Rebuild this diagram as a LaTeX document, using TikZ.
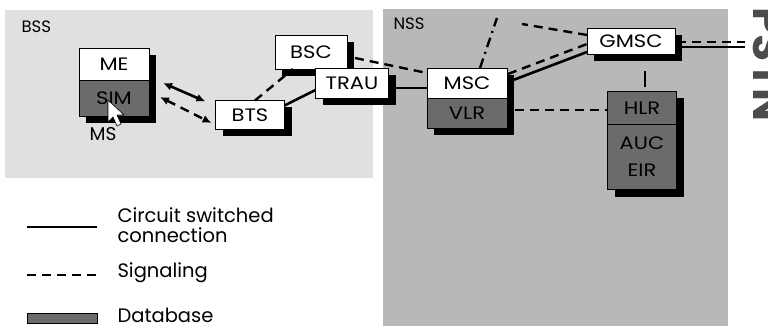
\documentclass[tikz,border=0pt]{standalone}
\usepackage{fontspec}
\setmainfont{Poppins}
\newfontfamily\widefont[FakeStretch=1.17]{Poppins}
\usetikzlibrary{arrows.meta, positioning, calc, shadows}

\definecolor{bssgray}{gray}{0.88}
\definecolor{nssgray}{gray}{0.72}
\definecolor{dbgray}{gray}{0.42}

\begin{document}
\begin{tikzpicture}[x=1pt, y=-1pt,
    font=\fontsize{18.5}{21}\selectfont,
    unit/.style={draw, fill=white, line width=0.8pt, inner sep=0pt, outer sep=0pt,
                 align=center, font=\widefont\fontsize{18}{21}\selectfont,
                 drop shadow={shadow xshift=7pt, shadow yshift=-7pt, fill=black, opacity=1}},
    db/.style={unit, fill=dbgray},
    circ/.style={line width=2.6pt},
    sig/.style={line width=2.4pt, dash pattern=on 9pt off 6pt},
    dblarr/.style={{Latex[length=9pt,width=8pt]}-{Latex[length=9pt,width=8pt]}},
    area/.style={font=\fontsize{16.5}{18}\selectfont, anchor=west},
    lab/.style={anchor=west, align=left, font=\fontsize{19.5}{20}\selectfont},
  ]
  \useasboundingbox (0,0) rectangle (768,326);
  \clip (0,0) rectangle (768,326);

  % subsystems
  \fill[bssgray] (5,10) rectangle (373,178);
  \fill[nssgray] (383,9) rectangle (728,326);
  \node[area] (bss) at (18,27) {BSS};
  \node[area] (nss) at (390,24) {NSS};

  % BSS
  \node[unit, minimum width=70pt, minimum height=32pt] (me) at (114,64) {ME};
  \node[db, minimum width=70pt, minimum height=36pt, below=0pt of me] (sim) {SIM};
  \draw[fill=white, line width=0.6pt] (108,100) -- (108,122) -- (113,117) -- (117,126)
        -- (121,124) -- (117,115) -- (124,115) -- cycle;
  \node (ms) at (103,134) {MS};
  \node[unit, minimum width=69pt, minimum height=29pt] (bts) at (250,115) {BTS};
  \node[unit, minimum width=72pt, minimum height=34pt] (bsc) at (311,52) {BSC};
  \node[unit, minimum width=73pt, minimum height=30pt] (trau) at (352,83) {TRAU};

  % NSS
  \node[unit, minimum width=80pt, minimum height=30pt] (msc) at (467,83) {MSC};
  \node[db, minimum width=80pt, minimum height=30pt, below=0pt of msc] (vlr) {VLR};
  \node[unit, minimum width=88pt, minimum height=26pt] (gmsc) at (631,41) {GMSC};
  \node[db, minimum width=69pt, minimum height=33pt] (hlr) at (642,108) {HLR};
  \node[db, minimum width=69pt, minimum height=65pt, below=0pt of hlr] (auc) {AUC\\[6pt]EIR};

  \node[rotate=-90, anchor=base west, text=gray!60!black,
        font=\fontsize{44}{46}\selectfont\bfseries] (pstn) at (753,4) {PSTN};
  \coordinate (pstnin) at (745,45);
  \coordinate (nsstop) at (497,18);
  \coordinate (nssleft) at (522,24);

  % radio interface
  \draw[circ, dblarr] ($(me.south east)+(14,3)$) -- ($(bts.north west)+(-10,1)$);
  \draw[sig, dblarr] ($(sim.east)+(11,-1)$) -- ($(bts.west)+(-4,8)$);

  % links
  \draw[sig] ($(bts.north)+(5,0)$) -- ($(bsc.south west)+(18,0)$);
  \draw[circ] ($(bts.north east)+(0,5)$) -- ($(trau.west)+(0,7)$);
  \draw[sig] ($(bsc.east)+(8,6)$) -- ($(msc.north west)+(0,5)$);
  \draw[circ] ($(trau.east)+(7,5)$) -- ($(msc.west)+(0,5)$);
  \draw[circ] ($(msc.east)+(1,-1)$) -- ($(gmsc.south west)+(0,-2)$);
  \draw[sig] ($(msc.north east)+(1,6)$) -- ($(gmsc.west)+(0,3)$);
  \draw[sig, dash pattern=on 10pt off 5pt on 2pt off 5pt] ($(msc.north)+(13,0)$) -- (nsstop);
  \draw[sig] ($(gmsc.west)+(0,-6)$) -- (nssleft);
  \draw[circ] ($(gmsc.east)+(2,6)$) -- ($(pstnin)+(0,2)$);
  \draw[sig] ($(gmsc.east)+(2,1)$) -- ($(pstnin)+(0,-3)$);
  \draw[sig, dash pattern=on 0pt off 11pt on 16pt off 5pt]
        ($(gmsc.south)+(14,6)$) -- ($(hlr.north)+(3,0)$);
  \draw[sig, line width=2pt] ($(vlr.east)+(8,-3)$) -- ($(hlr.west)+(0,2)$);

  % legend
  \draw[circ] (27,227) -- (97,227);
  \node[lab] (lcirc) at (114,225) {Circuit switched\\connection};
  \draw[sig] (27,275) -- (97,275);
  \node[lab] (lsig) at (114,273) {Signaling};
  \draw[fill=dbgray, line width=1pt] (27,313) rectangle (97,323);
  \node[lab] (ldb) at (114,315) {Database};
\end{tikzpicture}
\end{document}
